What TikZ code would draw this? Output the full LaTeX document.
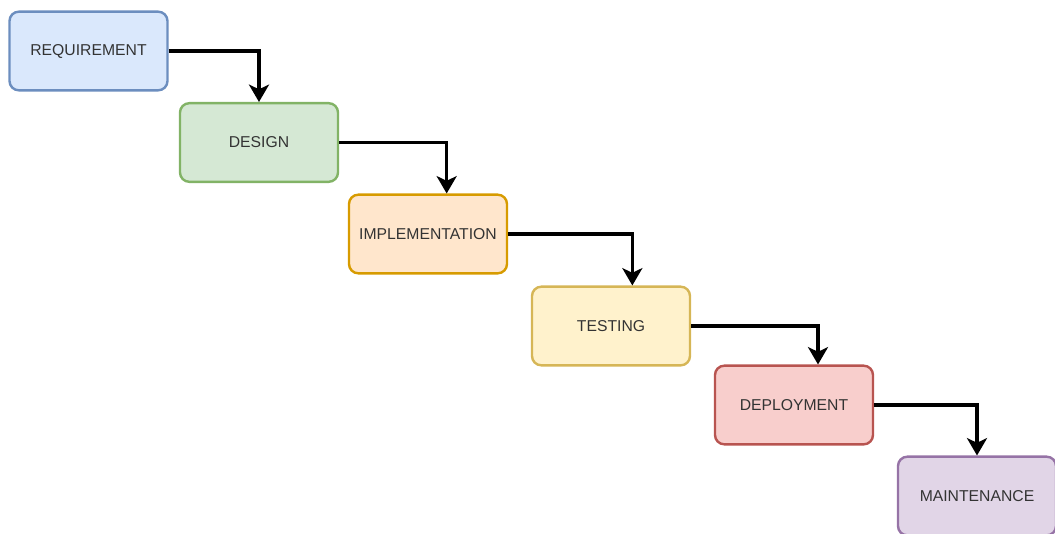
\documentclass[tikz,border=0pt]{standalone}
\usepackage{fontspec}
\setmainfont{Liberation Sans}
\usepackage{tikz}
\usetikzlibrary{arrows.meta,positioning}
\usepackage{xcolor}
\definecolor{wfblue}{HTML}{DAE8FC}
\definecolor{wfblueline}{HTML}{6C8EBF}
\definecolor{wfgreen}{HTML}{D5E8D4}
\definecolor{wfgreenline}{HTML}{82B366}
\definecolor{wforange}{HTML}{FFE6CC}
\definecolor{wforangeline}{HTML}{D79B00}
\definecolor{wfyellow}{HTML}{FFF2CC}
\definecolor{wfyellowline}{HTML}{D6B656}
\definecolor{wfred}{HTML}{F8CECC}
\definecolor{wfredline}{HTML}{B85450}
\definecolor{wfpurple}{HTML}{E1D5E7}
\definecolor{wfpurpleline}{HTML}{9673A6}
\definecolor{wftext}{HTML}{333333}
\tikzstyle{phase} = [draw, line width=1.8pt, rounded corners=7pt, minimum width=118.5pt, minimum height=59pt, inner sep=0pt, font=\fontsize{11.8}{14}\selectfont]
\tikzstyle{arrow} = [line width=2.6pt,-{Stealth[length=13pt,width=15pt,inset=3.5pt]},black]

\begin{document}
\begin{tikzpicture}[x=0.75pt, y=-0.75pt]
\useasboundingbox (0,0) rectangle (1055,533);

% Phases
\node[phase, draw=wfblueline, fill=wfblue, text=wftext] (req) at (88.5,51) {REQUIREMENT};
\node[phase, draw=wfgreenline, fill=wfgreen, text=wftext] (design) at (259,142.5) {DESIGN};
\node[phase, draw=wforangeline, fill=wforange, text=wftext] (impl) at (428,234) {IMPLEMENTATION};
\node[phase, draw=wfyellowline, fill=wfyellow, text=wftext] (test) at (611,326) {TESTING};
\node[phase, draw=wfredline, fill=wfred, text=wftext] (deploy) at (794,405) {DEPLOYMENT};
\node[phase, draw=wfpurpleline, fill=wfpurple, text=wftext] (maint) at (977,496) {MAINTENANCE};

% Connections
\draw[arrow] (req.east) -| (design.north);
\draw[arrow] (design.east) -| ([xshift=14pt]impl.north);
\draw[arrow] (impl.east) -| ([xshift=16pt]test.north);
\draw[arrow] (test.east) -| ([xshift=18pt]deploy.north);
\draw[arrow] (deploy.east) -| (maint.north);
\end{tikzpicture}
\end{document}
